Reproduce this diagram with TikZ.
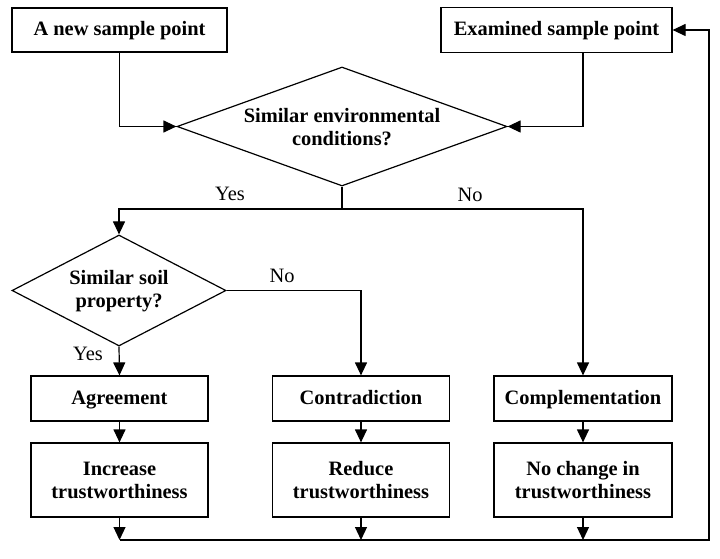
\documentclass[tikz,border=0pt]{standalone}
\usepackage{fontspec}
\setmainfont{Liberation Serif}
\usetikzlibrary{shapes.geometric,arrows.meta}
\begin{document}
\begin{tikzpicture}[x=1bp,y=-1bp,
  every node/.style={font=\fontsize{20.5}{23}\selectfont},
  box/.style={draw,line width=1.2bp,inner sep=0pt,align=center,font=\fontsize{20.5}{23}\selectfont\bfseries},
  oneline/.style={text height=15bp,text depth=4bp},
  dia/.style={draw,diamond,line width=1.2bp,inner sep=0pt},
  dtext/.style={align=center,inner sep=0pt,font=\fontsize{20.5}{23}\selectfont\bfseries},
  lbl/.style={inner sep=0pt,font=\fontsize{20.5}{23}\selectfont},
  conn/.style={line width=1.2bp},
  arr/.style={line width=1.2bp,-{Triangle[length=13bp,width=12bp]}}]
\useasboundingbox (0,0) rectangle (720,559);
\fill[white] (0,0) rectangle (720,559);

\node[box,oneline,minimum width=215bp,minimum height=44bp] (new) at (119.5,30) {A new sample point};
\node[box,oneline,minimum width=231bp,minimum height=45bp] (exam) at (556.5,30) {Examined sample point};
\node[dia,minimum width=330bp,minimum height=119bp] (d1) at (342,126.5) {};
\node[dtext] (d1t) at (342,127) {Similar environmental\\conditions?};
\node[dia,minimum width=214bp,minimum height=111bp] (d2) at (119,290.5) {};
\node[dtext] (d2t) at (119,291) {Similar soil\\property?};

\node[box,oneline,minimum width=177bp,minimum height=45bp] (agree) at (119.5,398.5) {Agreement};
\node[box,oneline,minimum width=177bp,minimum height=45bp] (contra) at (361,398.5) {Contradiction};
\node[box,oneline,minimum width=178bp,minimum height=45bp] (comp) at (583,398.5) {Complementation};
\node[box,minimum width=177bp,minimum height=74bp] (incr) at (119.5,480) {Increase\\trustworthiness};
\node[box,minimum width=177bp,minimum height=74bp] (red) at (361,480) {Reduce\\trustworthiness};
\node[box,minimum width=178bp,minimum height=74bp] (noch) at (583,480) {No change in\\trustworthiness};

\coordinate (split) at (342,209);
\coordinate (br) at (709,540);

\node[lbl] (yes1) at (230,194) {Yes};
\node[lbl] (no1) at (470,195) {No};
\node[lbl] (no2) at (282,276) {No};
\node[lbl] (yes2) at (88,354) {Yes};

\draw[arr] (new.south) -- (new.south |- d1.west) -- (d1.west);
\draw[arr] (comp.north |- exam.south) -- (comp.north |- d1.east) -- (d1.east);
\draw[conn] (d1.south) -- (split);
\draw[arr] (split) -| (d2.north);
\draw[arr] (split) -| (comp.north);
\draw[arr] (d2.east) -| (contra.north);
\draw[arr] (d2.south) -- (agree.north);
\draw[arr] (agree) -- (incr);
\draw[arr] (contra) -- (red);
\draw[arr] (comp) -- (noch);
\draw[arr] (incr.south) -- (incr.south |- br);
\draw[arr] (red.south) -- (red.south |- br);
\draw[arr] (noch.south) -- (noch.south |- br);
\draw[arr] (incr.south |- br) -- (br) |- (exam.east);
\end{tikzpicture}
\end{document}
